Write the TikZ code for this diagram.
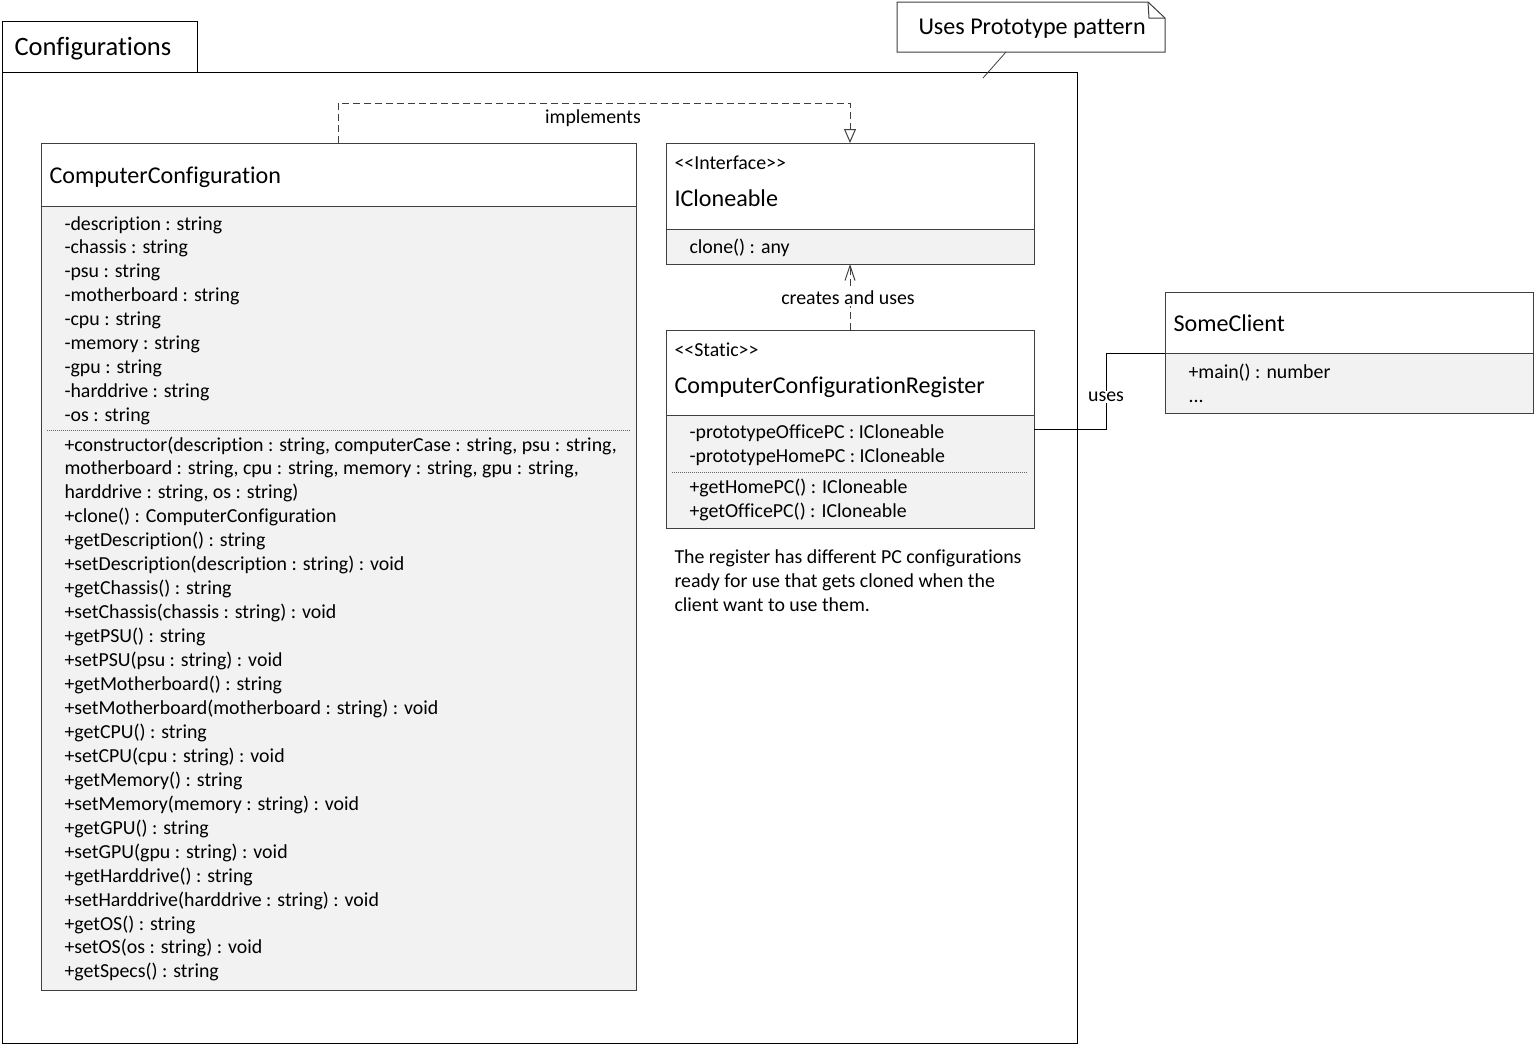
\documentclass[tikz,border=0pt]{standalone}
\usepackage{fontspec}
\setmainfont{Carlito}[Ligatures={NoCommon}]
\usetikzlibrary{arrows.meta}
\definecolor{boxgray}{HTML}{F2F2F2}
\definecolor{edge}{HTML}{3F3F3F}
\begin{document}
\begin{tikzpicture}[x=1pt,y=-1pt,line width=1pt,
  body/.style={font=\fontsize{19.85}{24}\selectfont,anchor=base west,inner sep=0pt},
  head/.style={font=\fontsize{24.1}{28}\selectfont,anchor=base west,inner sep=0pt},
  classbox/.style={draw=edge,anchor=north west,inner sep=0pt,outer sep=0pt},
  sep/.style={draw=edge,line width=1pt},
  dotsep/.style={draw=edge!80,line width=0.8pt,dash pattern=on 1pt off 1pt},
  dep/.style={draw=edge,dash pattern=on 7pt off 4pt},
  lbl/.style={font=\fontsize{19.85}{24}\selectfont,inner sep=1pt,fill=white}]
\useasboundingbox (0,0) rectangle (1535,1045);

% ---------- package frame ----------
\draw[black] (2,21) rectangle (197,72);
\draw[black] (2,72) rectangle (1077,1043);
\node[head,font=\fontsize{26.5}{30}\selectfont] (pkg) at (14,55) {Configurations};

% ---------- note ----------
\draw[edge,fill=white] (897,2) -- (1148,2) -- (1165,18) -- (1165,52) -- (897,52) -- cycle;
\draw[edge] (1148,2) -- (1149,18) -- (1165,18);
\node[head] (note) at (918,34) {Uses Prototype pattern};
\draw[edge,line width=0.8pt] (1006,52) -- (983,78);

% ---------- ComputerConfiguration ----------
\fill[boxgray] (41,206) rectangle (636,990);
\draw[sep] (41,206) -- (636,206);
\draw[dotsep] (47,430) -- (630,430);
\node[classbox,minimum width=595pt,minimum height=847pt] (cc) at (41,143) {};
\node[head] (ccT) at (49,183) {ComputerConfiguration};
\foreach \t [count=\i from 0] in {
  {-description : string},{-chassis : string},{-psu : string},
  {-motherboard : string},{-cpu : string},{-memory : string},
  {-gpu : string},{-harddrive : string},{-os : string}}
  \node[body] (ccA\i) at (64,{230+23.9*\i}) {\t};
\foreach \t [count=\i from 0] in {
  {+constructor(description : string, computerCase : string, psu : string,},
  {motherboard : string, cpu : string, memory : string, gpu : string,},
  {harddrive : string, os : string)},
  {+clone() : ComputerConfiguration},
  {+getDescription() : string},
  {+setDescription(description : string) : void},
  {+getChassis() : string},
  {+setChassis(chassis : string) : void},
  {+getPSU() : string},
  {+setPSU(psu : string) : void},
  {+getMotherboard() : string},
  {+setMotherboard(motherboard : string) : void},
  {+getCPU() : string},
  {+setCPU(cpu : string) : void},
  {+getMemory() : string},
  {+setMemory(memory : string) : void},
  {+getGPU() : string},
  {+setGPU(gpu : string) : void},
  {+getHarddrive() : string},
  {+setHarddrive(harddrive : string) : void},
  {+getOS() : string},
  {+setOS(os : string) : void},
  {+getSpecs() : string}}
  \node[body] (ccM\i) at (64,{451+23.95*\i}) {\t};

% ---------- ICloneable ----------
\fill[boxgray] (666,229) rectangle (1034,264);
\draw[sep] (666,229) -- (1034,229);
\node[classbox,minimum width=368pt,minimum height=121pt] (icl) at (666,143) {};
\node[body] (iclS) at (674,169) {<{}<Interface>{}>};
\node[head] (iclT) at (674,206) {ICloneable};
\node[body] (iclM) at (689,253) {clone() : any};

% ---------- ComputerConfigurationRegister ----------
\fill[boxgray] (666,415) rectangle (1034,528);
\draw[sep] (666,415) -- (1034,415);
\draw[dotsep] (672,472) -- (1028,472);
\node[classbox,minimum width=368pt,minimum height=198pt] (reg) at (666,330) {};
\node[body] (regS) at (674,356) {<{}<Static>{}>};
\node[head] (regT) at (674,393) {ComputerConfigurationRegister};
\node[body] (regA0) at (689,438) {-prototypeOfficePC : ICloneable};
\node[body] (regA1) at (689,462) {-prototypeHomePC : ICloneable};
\node[body] (regM0) at (689,493) {+getHomePC() : ICloneable};
\node[body] (regM1) at (689,517) {+getOfficePC() : ICloneable};

% comment text below the register
\node[body] (txt0) at (674,563) {The register has different PC configurations};
\node[body] (txt1) at (674,587) {ready for use that gets cloned when the};
\node[body] (txt2) at (674,611) {client want to use them.};

% ---------- SomeClient ----------
\fill[boxgray] (1165,353) rectangle (1533,413);
\draw[sep] (1165,353) -- (1533,353);
\node[classbox,minimum width=368pt,minimum height=121pt] (client) at (1165,292) {};
\node[head] (clientT) at (1173,331) {SomeClient};
\node[body] (clientM0) at (1188,378) {+main() : number};
\node[body] (clientM1) at (1188,402) {...};

% ---------- relations ----------
\draw[dep,-{Triangle[open,length=14pt,width=12pt]}]
  ([xshift=297pt]cc.north west) -- ++(0,-40) -| ([xshift=184pt]icl.north west);
\node[lbl,fill=none] (implL) at (593,118) {implements};

\draw[dep,-{Straight Barb[length=15pt,width=10pt]}]
  ([xshift=184pt]reg.north west) -- ([xshift=184pt]icl.south west);
\node[lbl] (cuL) at (848,298) {creates and uses};

\draw[draw=black] ([yshift=-99pt]reg.north east) -- (1106,429) -- (1106,353)
  -- ([yshift=-61pt]client.north west);
\node[lbl] (usesL) at (1106,397) {uses};
\end{tikzpicture}
\end{document}
